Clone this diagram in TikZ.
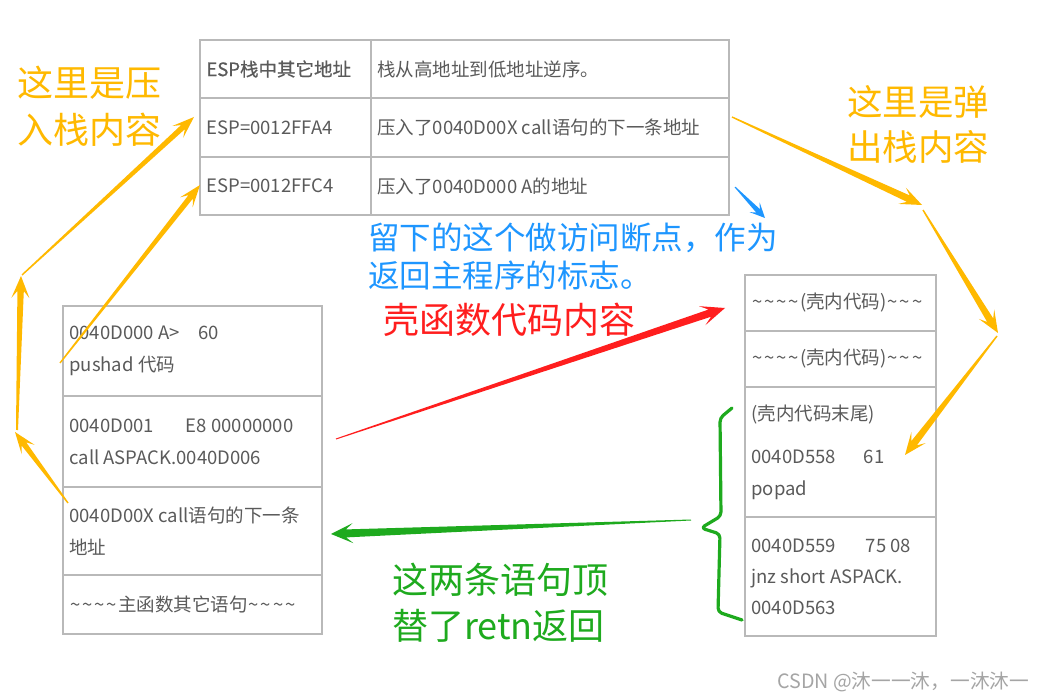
\documentclass[tikz,border=0pt]{standalone}
\usepackage{fontspec}
\setmainfont{Noto Sans CJK SC}
\newfontfamily\hdfont[FakeBold=0.6]{Noto Sans CJK SC}
\usetikzlibrary{calc}
\definecolor{cOrange}{RGB}{255,185,0}
\definecolor{cBlue}{RGB}{30,150,255}
\definecolor{cRed}{RGB}{255,30,30}
\definecolor{cGreen}{RGB}{30,170,30}
\definecolor{cText}{RGB}{90,90,90}
\definecolor{cBorder}{RGB}{185,185,185}
\definecolor{cMark}{RGB}{165,165,165}
\newcommand{\tld}{\makebox[12.2pt]{\char"007E}}
% tapered arrow: #1 start, #2 tip, #3 start half width, #4 end half width,
% #5 notch distance, #6 wing distance, #7 wing half width, #8 colour
\newcommand{\tarrow}[8]{%
  \path ($(#2)!#5!(#1)$) coordinate (tn) ($(#2)!#6!(#1)$) coordinate (tw);
  \fill[#8] ($(#1)!#3!90:(#2)$) -- ($(tn)!#4!90:(#2)$) -- ($(tw)!#7!90:(#2)$) -- (#2)
    -- ($(tw)!#7!-90:(#2)$) -- ($(tn)!#4!-90:(#2)$) -- ($(#1)!#3!-90:(#2)$) -- cycle;}
\begin{document}
\begin{tikzpicture}[x=1pt,y=-1pt,
  cell/.style={draw=cBorder, line width=1.6pt, inner sep=0pt},
  txt/.style={anchor=west, inner sep=0pt, align=left, text=cText, font=\fontsize{18.5}{32}\selectfont},
  lbl/.style={inner sep=0pt, align=left, anchor=west}]
\useasboundingbox[fill=white] (0,0) rectangle (1042,700);

% ---- top table ----
\node[cell, minimum width=171pt, minimum height=58pt] (h1) at (285.5,69) {};
\node[cell, minimum width=358pt, minimum height=58pt] (h2) at (550,69) {};
\node[cell, minimum width=171pt, minimum height=59pt] (r1a) at (285.5,127.5) {};
\node[cell, minimum width=358pt, minimum height=59pt] (r1b) at (550,127.5) {};
\node[cell, minimum width=171pt, minimum height=58pt] (r2a) at (285.5,186) {};
\node[cell, minimum width=358pt, minimum height=58pt] (r2b) at (550,186) {};
\node[txt] (h1t) at ([xshift=7pt]h1.west) {\hdfont ESP栈中其它地址};
\node[txt] (h2t) at ([xshift=7pt]h2.west) {栈从高地址到低地址逆序。};
\node[txt] (r1at) at ([xshift=7pt]r1a.west) {ESP=0012FFA4};
\node[txt] (r1bt) at ([xshift=7pt]r1b.west) {压入了0040D00X call语句的下一条地址};
\node[txt] (r2at) at ([xshift=7pt]r2a.west) {ESP=0012FFC4};
\node[txt] (r2bt) at ([xshift=7pt]r2b.west) {压入了0040D000 A的地址};

% ---- left box ----
\node[cell, minimum width=259pt, minimum height=90pt] (m1) at (192.5,351) {};
\node[cell, minimum width=259pt, minimum height=91pt] (m2) at (192.5,441.5) {};
\node[cell, minimum width=259pt, minimum height=88pt] (m3) at (192.5,531) {};
\node[cell, minimum width=259pt, minimum height=59pt] (m4) at (192.5,604.5) {};
\node[txt] (m1t) at ([xshift=7pt]m1.west) {0040D000 A>\hspace{19pt}60\\pushad 代码};
\node[txt] (m2t) at ([xshift=7pt]m2.west) {0040D001\hspace{32pt}E8 00000000\\call ASPACK.0040D006};
\node[txt] (m3t) at ([xshift=7pt]m3.west) {0040D00X call语句的下一条\\地址};
\node[txt] (m4t) at ([xshift=7pt]m4.west) {\tld\tld\tld\tld 主函数其它语句\tld\tld\tld\tld};

% ---- right box ----
\node[cell, minimum width=191pt, minimum height=56pt] (s1) at (840.5,303) {};
\node[cell, minimum width=191pt, minimum height=56pt] (s2) at (840.5,359) {};
\node[cell, minimum width=191pt, minimum height=130pt] (s3) at (840.5,452) {};
\node[cell, minimum width=191pt, minimum height=119pt] (s4) at (840.5,576.5) {};
\node[txt] (s1t) at ([xshift=7pt]s1.west) {\tld\tld\tld\tld(壳内代码)\tld\tld\tld};
\node[txt] (s2t) at ([xshift=7pt]s2.west) {\tld\tld\tld\tld(壳内代码)\tld\tld\tld};
\node[txt] (s3t) at ([xshift=7pt]s3.west) {(壳内代码末尾)\\[11pt]0040D558\hspace{28pt}61\\popad};
\node[txt, font=\fontsize{18.5}{31}\selectfont] (s4t) at ([xshift=7pt]s4.west) {0040D559\hspace{30pt}75 08\\jnz short ASPACK.\\0040D563};

% ---- labels ----
\node[lbl, text=cOrange, font=\fontsize{36}{47}\selectfont] (pushlbl) at (17,106.5) {这里是压\\入栈内容};
\node[lbl, text=cOrange, font=\fontsize{35.5}{45}\selectfont] (poplbl) at (847,124.5) {这里是弹\\出栈内容};
\node[lbl, text=cBlue, font=\fontsize{31.5}{38}\selectfont] (bplbl) at (368,256) {留下的这个做访问断点，作为\\返回主程序的标志。};
\node[lbl, text=cRed, font=\fontsize{36}{36}\selectfont] (shelllbl) at (383,320) {壳函数代码内容};
\node[lbl, text=cGreen, font=\fontsize{36}{46}\selectfont] (retlbl) at (392,602.5) {这两条语句顶\\替了retn返回};
\node[lbl, text=cMark, font=\fontsize{19.7}{20}\selectfont] (wm) at (777,682) {CSDN @沐一一沐，一沐沐一};

% ---- arrow end points ----
\coordinate (a1s) at (60,363);  \coordinate (a1t) at (200,185);
\coordinate (a2s) at (22,275);  \coordinate (a2t) at (194,117);
\coordinate (a3s) at (17,430);  \coordinate (a3t) at (21,276);
\coordinate (a4s) at (68,503);  \coordinate (a4t) at (15,432);
\coordinate (a5s) at (732,117); \coordinate (a5t) at (922,205);
\coordinate (a6s) at (923,210); \coordinate (a6t) at (998,333);
\coordinate (a7s) at (997,336); \coordinate (a7t) at (905,455);
\coordinate (bs) at (735,187);  \coordinate (bt) at (765,218);
\coordinate (rs) at (336,439);  \coordinate (rt) at (725,308);
\coordinate (gs) at (691,520);  \coordinate (gt) at (331,534);

% ---- arrows ----
\tarrow{a1s}{a1t}{0.7pt}{2.8pt}{15pt}{22pt}{8pt}{cOrange}
\tarrow{a2s}{a2t}{0.7pt}{2.8pt}{15pt}{22pt}{8pt}{cOrange}
\tarrow{a3s}{a3t}{1pt}{3.2pt}{15pt}{22pt}{9pt}{cOrange}
\tarrow{a4s}{a4t}{0.7pt}{2.8pt}{15pt}{22pt}{8pt}{cOrange}
\tarrow{a5s}{a5t}{0.7pt}{3.5pt}{15pt}{22pt}{9pt}{cOrange}
\tarrow{a6s}{a6t}{0.7pt}{3.5pt}{15pt}{22pt}{9pt}{cOrange}
\tarrow{a7s}{a7t}{0.7pt}{3.5pt}{15pt}{22pt}{9pt}{cOrange}
\tarrow{bs}{bt}{0.5pt}{2.5pt}{10pt}{15pt}{7pt}{cBlue}
\tarrow{rs}{rt}{0.5pt}{3.8pt}{16pt}{24pt}{10pt}{cRed}
\tarrow{gs}{gt}{0.5pt}{4pt}{15pt}{22pt}{10pt}{cGreen}

% ---- green brace ----
\draw[cGreen, line width=3.2pt, line cap=round, line join=round, rounded corners=4pt]
  (732,408) -- (720,418) -- (721,516) -- (701,528) -- (720,534) -- (718,612) -- (742,620);
\end{tikzpicture}
\end{document}
